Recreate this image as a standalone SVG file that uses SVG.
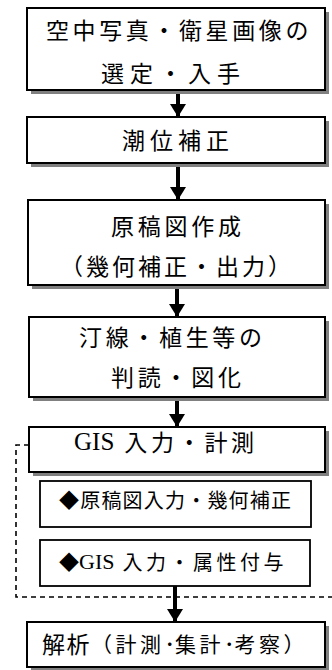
<svg xmlns="http://www.w3.org/2000/svg" width="332" height="670" viewBox="0 0 332 670">
<style>
.shadow{fill:#808080;stroke:none}
.box{fill:#fff;stroke:#000;stroke-width:2}
.sub{fill:#fff;stroke:#000;stroke-width:1.8}
.t{font-family:"Noto Sans CJK JP","Noto Sans",sans-serif;font-size:23px;fill:#000;dominant-baseline:central}
.s{font-size:20px}
.serif{font-family:"Liberation Serif","Noto Sans CJK JP",serif}
.arrow{stroke:#000;stroke-width:4;fill:none;marker-end:url(#ah)}
.dash{stroke:#000;stroke-width:1.6;fill:none;stroke-dasharray:5 4}
</style>
<defs>
<marker id="ah" markerUnits="userSpaceOnUse" markerWidth="13" markerHeight="16" viewBox="0 0 13 16" refX="12" refY="8" orient="auto">
<path d="M0 0 L13 8 L0 16 Z" fill="#000"/>
</marker>
</defs>
<rect width="332" height="670" fill="#fff"/>
<g id="connectors">
<path class="dash" d="M29 445 H16 V597 H332"/>
<line class="arrow" x1="178" y1="90" x2="178" y2="116"/>
<line class="arrow" x1="178" y1="163" x2="178" y2="199"/>
<line class="arrow" x1="177" y1="285" x2="177" y2="316"/>
<line class="arrow" x1="177" y1="397" x2="177" y2="426"/>
<line class="arrow" x1="175" y1="586" x2="175" y2="621"/>
</g>
<g id="n1">
<rect class="shadow" x="31" y="12" width="298" height="82"/>
<rect class="box" x="27" y="8" width="298" height="82"/>
<text class="t" x="46" y="29" letter-spacing="3.6">空中写真・衛星画像の</text>
<text class="t" x="101" y="72" letter-spacing="6">選定・入手</text>
</g>
<g id="n2">
<rect class="shadow" x="31" y="121" width="298" height="46"/>
<rect class="box" x="27" y="117" width="298" height="46"/>
<text class="t" x="122" y="139" letter-spacing="5">潮位補正</text>
</g>
<g id="n3">
<rect class="shadow" x="32" y="204" width="297" height="85"/>
<rect class="box" x="28" y="200" width="297" height="85"/>
<text class="t" x="111" y="225" letter-spacing="3.75">原稿図作成</text>
<text class="t" x="60" y="265" letter-spacing="3">（幾何補正・出力）</text>
</g>
<g id="n4">
<rect class="shadow" x="33" y="321" width="296" height="80"/>
<rect class="box" x="29" y="317" width="296" height="80"/>
<text class="t" x="79" y="336" letter-spacing="3.67">汀線・植生等の</text>
<text class="t" x="111" y="376" letter-spacing="3.75">判読・図化</text>
</g>
<g id="n5">
<rect class="shadow" x="33" y="431" width="296" height="45"/>
<rect class="box" x="29" y="427" width="296" height="45"/>
<text class="t" x="74" y="441"><tspan class="serif" font-size="25">GIS</tspan><tspan dx="10" letter-spacing="3.7">入力・計測</tspan></text>
</g>
<g id="n6">
<rect class="sub" x="40" y="481" width="271" height="46"/>
<text class="t s" x="59" y="499" letter-spacing="1.2">◆原稿図入力・幾何補正</text>
</g>
<g id="n7">
<rect class="sub" x="40" y="540" width="270" height="46"/>
<text class="t s" x="59" y="561">◆<tspan class="serif" font-size="22">GIS</tspan><tspan dx="8" letter-spacing="3.5">入力・属性付与</tspan></text>
</g>
<g id="n8">
<rect class="shadow" x="31" y="626" width="298" height="45"/>
<rect class="box" x="27" y="622" width="298" height="45"/>
<text class="t" x="42" y="643"><tspan letter-spacing="1.5">解析</tspan><tspan font-size="21" letter-spacing="3.5">（計測</tspan><tspan font-size="21">･</tspan><tspan font-size="21" letter-spacing="3.5">集計</tspan><tspan font-size="21">･</tspan><tspan font-size="21" letter-spacing="3.5">考察）</tspan></text>
</g>
</svg>
